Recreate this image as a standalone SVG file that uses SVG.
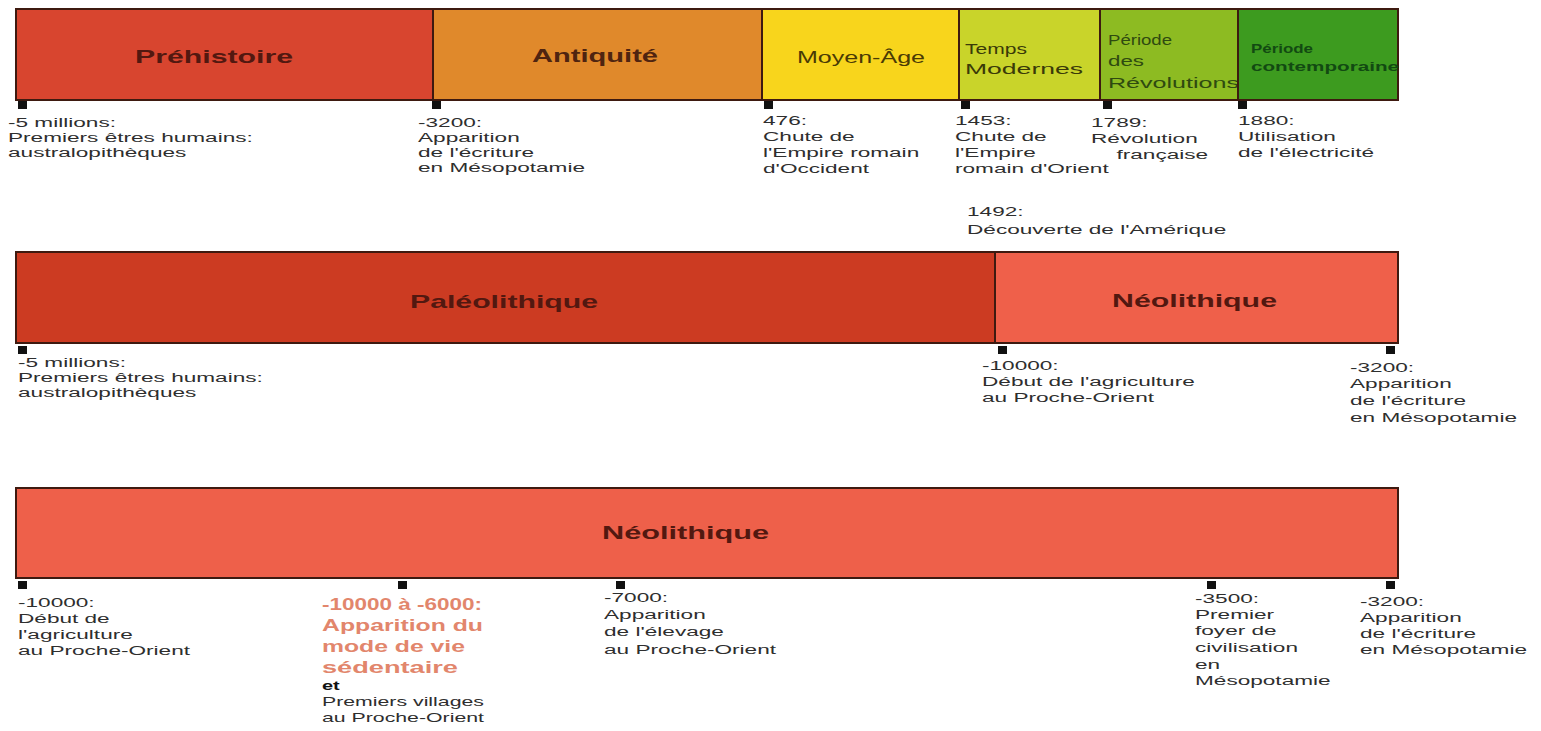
<svg xmlns="http://www.w3.org/2000/svg" width="1541" height="731" viewBox="0 0 1541 731">
<style>
.bar{stroke:#3e1a10;stroke-width:2}
.tick{fill:#111}
.lbl{font-family:"Liberation Sans",Arial,sans-serif;font-size:13.3px;fill:#2e2e2e}
.ttl{font-family:"Liberation Sans",Arial,sans-serif;font-weight:bold;fill:#521810}
.reg{font-family:"Liberation Sans",Arial,sans-serif;fill:#3a3a08}
.sal{font-family:"Liberation Sans",Arial,sans-serif;font-weight:bold;font-size:16px;fill:#e2866c}
</style>
<rect width="1541" height="731" fill="#ffffff"/>

<!-- Row 1 -->
<g id="prehistoire">
<rect class="bar" x="16" y="9" width="417" height="91" fill="#d8452f"/>
<text class="ttl" x="135" y="63" font-size="19" textLength="158" lengthAdjust="spacingAndGlyphs">Préhistoire</text>
</g>
<g id="antiquite">
<rect class="bar" x="433" y="9" width="329" height="91" fill="#e0892b"/>
<text class="ttl" x="532" y="62" font-size="19" style="fill:#4f2410" textLength="126" lengthAdjust="spacingAndGlyphs">Antiquité</text>
</g>
<g id="moyen-age">
<rect class="bar" x="762" y="9" width="197" height="91" fill="#f8d51c"/>
<text class="reg" x="797" y="63" font-size="16" style="fill:#4a3a05" textLength="128" lengthAdjust="spacingAndGlyphs">Moyen-Âge</text>
</g>
<g id="temps-modernes">
<rect class="bar" x="959" y="9" width="141" height="91" fill="#c9d42a"/>
<text class="reg" x="965" y="54" font-size="15" textLength="62" lengthAdjust="spacingAndGlyphs">Temps</text>
<text class="reg" x="965" y="74" font-size="15" textLength="118" lengthAdjust="spacingAndGlyphs">Modernes</text>
</g>
<g id="revolutions">
<rect class="bar" x="1100" y="9" width="138" height="91" fill="#8dbb22"/>
<text class="reg" x="1108" y="45" font-size="15" style="fill:#2f4a10" textLength="64" lengthAdjust="spacingAndGlyphs">Période</text>
<text class="reg" x="1108" y="66" font-size="15" style="fill:#2f4a10" textLength="36" lengthAdjust="spacingAndGlyphs">des</text>
<text class="reg" x="1108" y="88" font-size="15" style="fill:#2f4a10" textLength="131" lengthAdjust="spacingAndGlyphs">Révolutions</text>
</g>
<g id="contemporaine">
<rect class="bar" x="1238" y="9" width="160" height="91" fill="#3d9b1f"/>
<text class="ttl" x="1251" y="53" font-size="12" style="fill:#124a12" textLength="62" lengthAdjust="spacingAndGlyphs">Période</text>
<text class="ttl" x="1251" y="71" font-size="12" style="fill:#124a12" textLength="148" lengthAdjust="spacingAndGlyphs">contemporaine</text>
</g>

<g id="ticks-row1">
<rect class="tick" x="18" y="101" width="9" height="8"/>
<rect class="tick" x="432" y="101" width="9" height="8"/>
<rect class="tick" x="764" y="101" width="9" height="8"/>
<rect class="tick" x="961" y="101" width="9" height="8"/>
<rect class="tick" x="1103" y="101" width="9" height="8"/>
<rect class="tick" x="1238" y="101" width="9" height="8"/>
</g>

<g id="labels-row1">
<text class="lbl" transform="translate(8 0) scale(1.7 1)" y="127">-5 millions:<tspan x="0" dy="15">Premiers êtres humains:</tspan><tspan x="0" dy="15">australopithèques</tspan></text>
<text class="lbl" transform="translate(418 0) scale(1.7 1)" y="127">-3200:<tspan x="0" dy="15">Apparition</tspan><tspan x="0" dy="15">de l'écriture</tspan><tspan x="0" dy="15">en Mésopotamie</tspan></text>
<text class="lbl" transform="translate(763 0) scale(1.7 1)" y="125">476:<tspan x="0" dy="16">Chute de</tspan><tspan x="0" dy="16">l'Empire romain</tspan><tspan x="0" dy="16">d'Occident</tspan></text>
<text class="lbl" transform="translate(955 0) scale(1.7 1)" y="125">1453:<tspan x="0" dy="16">Chute de</tspan><tspan x="0" dy="16">l'Empire</tspan><tspan x="0" dy="16">romain d'Orient</tspan></text>
<text class="lbl" transform="translate(1091 0) scale(1.7 1)" y="127">1789:<tspan x="0" dy="16">Révolution</tspan><tspan x="15" dy="16">française</tspan></text>
<text class="lbl" transform="translate(1238 0) scale(1.7 1)" y="125">1880:<tspan x="0" dy="16">Utilisation</tspan><tspan x="0" dy="16">de l'électricité</tspan></text>
<text class="lbl" transform="translate(967 0) scale(1.7 1)" y="216">1492:<tspan x="0" dy="18">Découverte de l'Amérique</tspan></text>
</g>

<!-- Row 2 -->
<g id="paleolithique">
<rect class="bar" x="16" y="252" width="979" height="91" fill="#cc3b22"/>
<text class="ttl" x="410" y="308" font-size="19" textLength="188" lengthAdjust="spacingAndGlyphs">Paléolithique</text>
</g>
<g id="neolithique-2">
<rect class="bar" x="995" y="252" width="403" height="91" fill="#ef604a"/>
<text class="ttl" x="1112" y="307" font-size="19" textLength="165" lengthAdjust="spacingAndGlyphs">Néolithique</text>
</g>
<g id="ticks-row2">
<rect class="tick" x="18" y="346" width="9" height="8"/>
<rect class="tick" x="998" y="346" width="9" height="8"/>
<rect class="tick" x="1386" y="346" width="9" height="8"/>
</g>
<g id="labels-row2">
<text class="lbl" transform="translate(18 0) scale(1.7 1)" y="367">-5 millions:<tspan x="0" dy="15">Premiers êtres humains:</tspan><tspan x="0" dy="15">australopithèques</tspan></text>
<text class="lbl" transform="translate(982 0) scale(1.7 1)" y="370">-10000:<tspan x="0" dy="16">Début de l'agriculture</tspan><tspan x="0" dy="16">au Proche-Orient</tspan></text>
<text class="lbl" transform="translate(1350 0) scale(1.7 1)" y="372">-3200:<tspan x="0" dy="16">Apparition</tspan><tspan x="0" dy="17">de l'écriture</tspan><tspan x="0" dy="17">en Mésopotamie</tspan></text>
</g>

<!-- Row 3 -->
<g id="neolithique-3">
<rect class="bar" x="16" y="488" width="1382" height="90" fill="#ee604a"/>
<text class="ttl" x="602" y="539" font-size="19" textLength="167" lengthAdjust="spacingAndGlyphs">Néolithique</text>
</g>
<g id="ticks-row3">
<rect class="tick" x="18" y="581" width="9" height="8"/>
<rect class="tick" x="398" y="581" width="9" height="8"/>
<rect class="tick" x="616" y="581" width="9" height="8"/>
<rect class="tick" x="1207" y="581" width="9" height="8"/>
<rect class="tick" x="1386" y="581" width="9" height="8"/>
</g>
<g id="labels-row3">
<text class="lbl" transform="translate(18 0) scale(1.7 1)" y="607">-10000:<tspan x="0" dy="16">Début de</tspan><tspan x="0" dy="16">l'agriculture</tspan><tspan x="0" dy="16">au Proche-Orient</tspan></text>
<text class="sal" x="322" y="610" textLength="160" lengthAdjust="spacingAndGlyphs">-10000 à -6000:</text>
<text class="sal" x="322" y="631" textLength="161" lengthAdjust="spacingAndGlyphs">Apparition du</text>
<text class="sal" x="322" y="652" textLength="143" lengthAdjust="spacingAndGlyphs">mode de vie</text>
<text class="sal" x="322" y="673" textLength="136" lengthAdjust="spacingAndGlyphs">sédentaire</text>
<text class="lbl" transform="translate(322 0) scale(1.5 1)" y="690" font-weight="bold" style="fill:#111">et</text>
<text class="lbl" transform="translate(322 0) scale(1.6 1)" y="706">Premiers villages<tspan x="0" dy="16">au Proche-Orient</tspan></text>
<text class="lbl" transform="translate(604 0) scale(1.7 1)" y="602">-7000:<tspan x="0" dy="17">Apparition</tspan><tspan x="0" dy="17">de l'élevage</tspan><tspan x="0" dy="18">au Proche-Orient</tspan></text>
<text class="lbl" transform="translate(1195 0) scale(1.7 1)" y="603">-3500:<tspan x="0" dy="16">Premier</tspan><tspan x="0" dy="16">foyer de</tspan><tspan x="0" dy="17">civilisation</tspan><tspan x="0" dy="17">en</tspan><tspan x="0" dy="16">Mésopotamie</tspan></text>
<text class="lbl" transform="translate(1360 0) scale(1.7 1)" y="606">-3200:<tspan x="0" dy="16">Apparition</tspan><tspan x="0" dy="16">de l'écriture</tspan><tspan x="0" dy="16">en Mésopotamie</tspan></text>
</g>
</svg>
